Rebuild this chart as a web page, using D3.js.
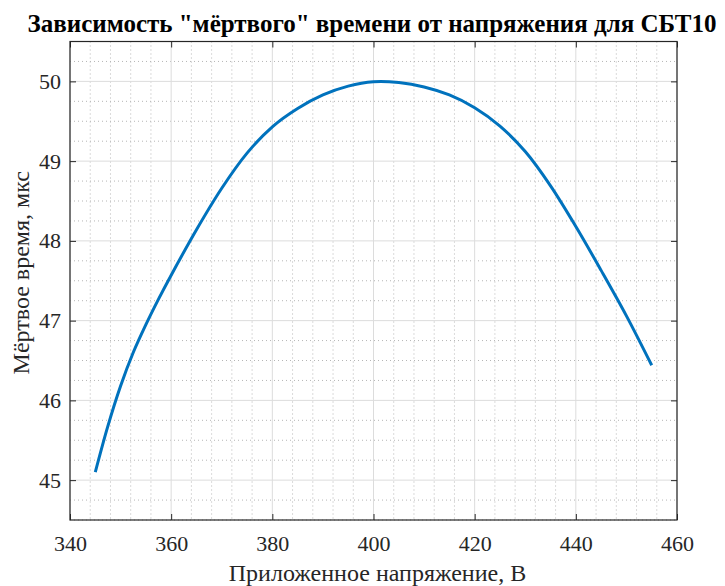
<!DOCTYPE html>
<html>
<head>
<meta charset="utf-8">
<script src="https://cdn.jsdelivr.net/npm/d3@7"></script>
<style>
  body { margin: 0; background: #fff; }
  text { font-family: "Liberation Serif", "Times New Roman", serif; }
</style>
</head>
<body>
<script>
var width = 725;
var height = 586;

// voltage, V
var voltage = [345, 347.5, 350, 352.5, 355, 357.5, 360, 365, 370, 375, 380, 385, 390, 395, 400,
               405, 410, 415, 420, 425, 430, 435, 440, 445, 450, 455];
// dead time, us
var deadTime = [45.10, 45.68, 46.18, 46.60, 46.95, 47.27, 47.57, 48.14, 48.66, 49.10, 49.43, 49.66, 49.83, 49.94, 49.995,
                49.985, 49.93, 49.83, 49.67, 49.44, 49.12, 48.69, 48.18, 47.63, 47.06, 46.44];

var xTicks = [340, 360, 380, 400, 420, 440, 460];
var yTicks = [45, 46, 47, 48, 49, 50];

var titleText = 'Зависимость "мёртвого" времени от напряжения для СБТ10';
var xLabel = "Приложенное напряжение, В";
var yLabel = "Мёртвое время, мкс";

var pLeft = 70, pRight = 677, pTop = 41.5, pBottom = 520;

var x = d3.scaleLinear().domain([340, 460]).range([pLeft, pRight]);
var y = d3.scaleLinear().domain([44.5, 50.5]).range([pBottom, pTop]);

var svg = d3.select("body").append("svg")
  .attr("width", width)
  .attr("height", height);

// minor grid
var xMinor = d3.range(340, 460.01, 4).filter(function(d){ return d % 20 != 0; });
var yMinor = d3.range(44.5, 50.51, 0.25).filter(function(d){ return Math.abs(d - Math.round(d)) > 0.01; });

svg.append("g").selectAll("line").data(xMinor).enter().append("line")
  .attr("x1", function(d){ return x(d); }).attr("x2", function(d){ return x(d); })
  .attr("y1", pTop).attr("y2", pBottom)
  .attr("stroke", "#b5b5b5").attr("stroke-width", 1).attr("stroke-dasharray", "1,3");
svg.append("g").selectAll("line").data(yMinor).enter().append("line")
  .attr("y1", function(d){ return y(d); }).attr("y2", function(d){ return y(d); })
  .attr("x1", pLeft).attr("x2", pRight)
  .attr("stroke", "#b5b5b5").attr("stroke-width", 1).attr("stroke-dasharray", "1,3");

// major grid
svg.append("g").selectAll("line").data(xTicks).enter().append("line")
  .attr("x1", function(d){ return x(d); }).attr("x2", function(d){ return x(d); })
  .attr("y1", pTop).attr("y2", pBottom)
  .attr("stroke", "#dcdcdc").attr("stroke-width", 1);
svg.append("g").selectAll("line").data(yTicks).enter().append("line")
  .attr("y1", function(d){ return y(d); }).attr("y2", function(d){ return y(d); })
  .attr("x1", pLeft).attr("x2", pRight)
  .attr("stroke", "#dcdcdc").attr("stroke-width", 1);

// curve
var line = d3.line()
  .x(function(d, i){ return x(voltage[i]); })
  .y(function(d){ return y(d); })
  .curve(d3.curveCatmullRom.alpha(0.5));

svg.append("path").datum(deadTime)
  .attr("d", line)
  .attr("fill", "none")
  .attr("stroke", "#0072BD")
  .attr("stroke-width", 3)
  .attr("stroke-linejoin", "round");

// axes (ticks inside, box on)
var axisColor = "#262626";
var tl = 6;
var fmt = d3.format("d");

function clean(g){
  g.select(".domain").remove();
  g.attr("font-family", '"Liberation Serif", serif').attr("font-size", 22);
}

svg.append("g").attr("transform", "translate(0," + pBottom + ")")
  .call(d3.axisBottom(x).tickValues(xTicks).tickFormat(fmt).tickSizeInner(-tl).tickSizeOuter(0).tickPadding(15))
  .call(clean);
svg.append("g").attr("transform", "translate(0," + pTop + ")")
  .call(d3.axisTop(x).tickValues(xTicks).tickSizeInner(-tl).tickSizeOuter(0).tickFormat(""))
  .call(clean);
svg.append("g").attr("transform", "translate(" + pLeft + ",0)")
  .call(d3.axisLeft(y).tickValues(yTicks).tickFormat(fmt).tickSizeInner(-tl).tickSizeOuter(0).tickPadding(9))
  .call(clean);
svg.append("g").attr("transform", "translate(" + pRight + ",0)")
  .call(d3.axisRight(y).tickValues(yTicks).tickSizeInner(-tl).tickSizeOuter(0).tickFormat(""))
  .call(clean);

svg.selectAll(".tick line").attr("stroke", axisColor);
svg.selectAll(".tick text").attr("fill", axisColor);

svg.append("rect")
  .attr("x", pLeft).attr("y", pTop)
  .attr("width", pRight - pLeft).attr("height", pBottom - pTop)
  .attr("fill", "none").attr("stroke", axisColor).attr("stroke-width", 1.2);

// texts
svg.append("text")
  .attr("x", 372).attr("y", 32)
  .attr("text-anchor", "middle")
  .style("font-weight", "bold").style("font-size", "25px")
  .attr("fill", "#000")
  .text(titleText);

svg.append("text")
  .attr("x", (pLeft + pRight) / 2 + 4).attr("y", 581)
  .attr("text-anchor", "middle")
  .style("font-size", "24px")
  .attr("fill", axisColor)
  .text(xLabel);

svg.append("text")
  .attr("transform", "translate(29," + ((pTop + pBottom) / 2 - 8) + ") rotate(-90)")
  .attr("text-anchor", "middle")
  .style("font-size", "24px")
  .attr("fill", axisColor)
  .text(yLabel);
</script>
</body>
</html>
